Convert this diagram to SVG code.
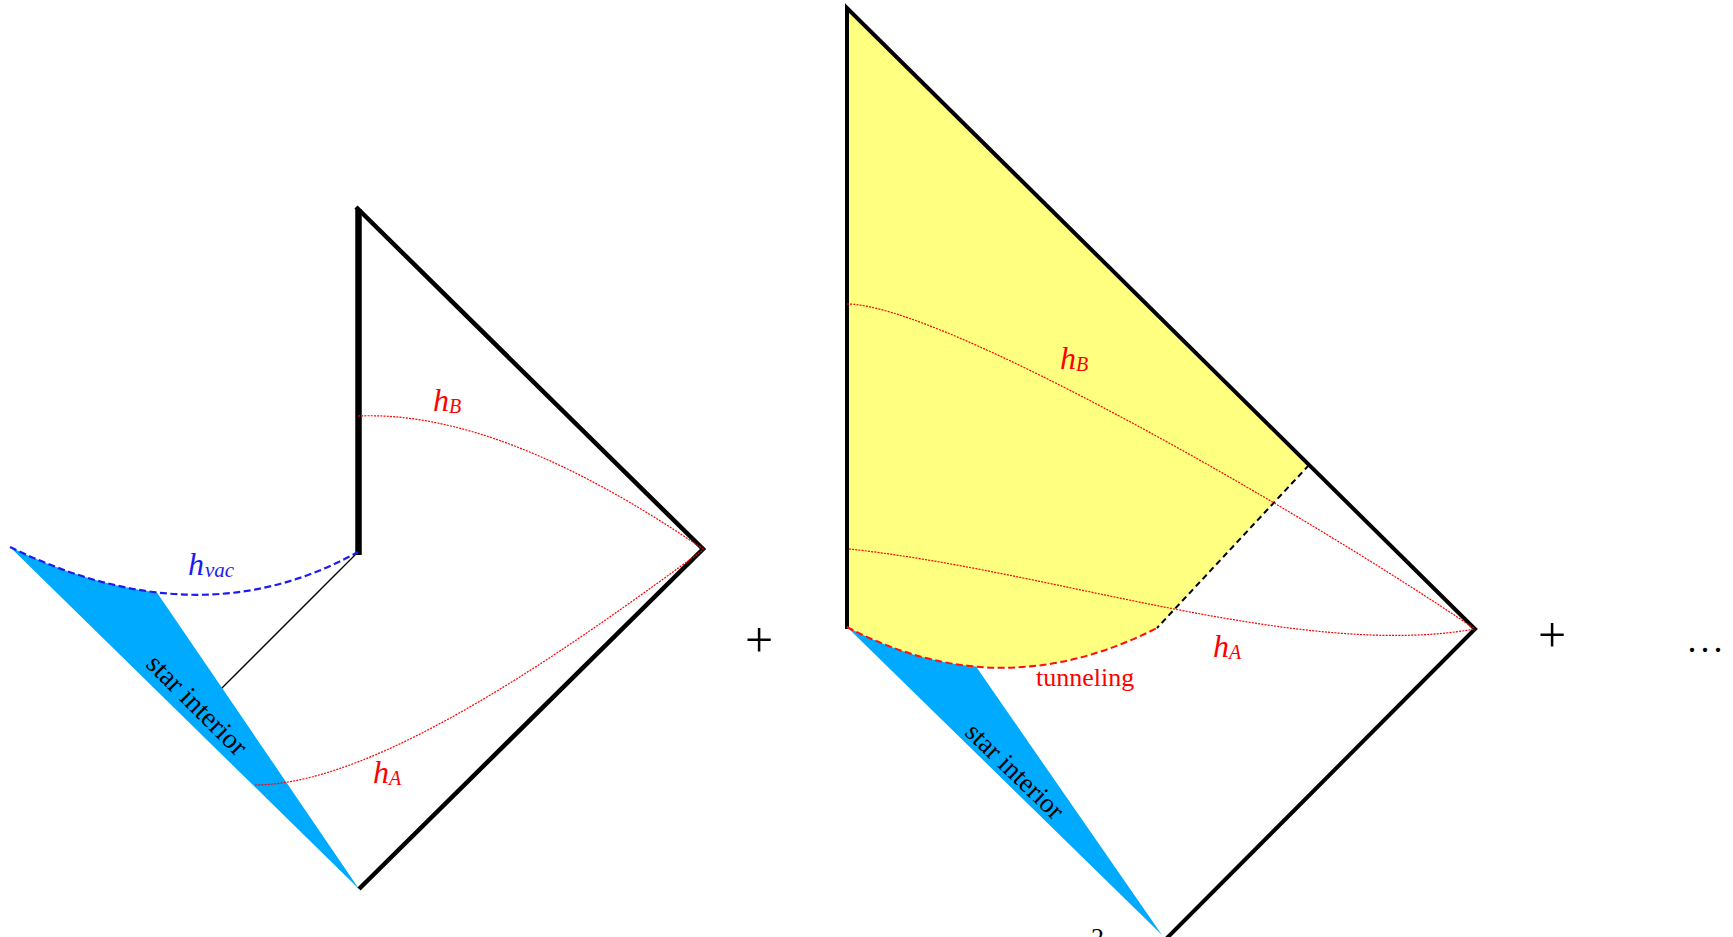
<svg xmlns="http://www.w3.org/2000/svg" width="1733" height="937" viewBox="0 0 1733 937">
<style>
.bd{fill:none;stroke:#000;stroke-linejoin:miter;stroke-linecap:butt}
.rdot{fill:none;stroke:#ff0000;stroke-width:1.2;stroke-dasharray:2 1.2}
.rdash{fill:none;stroke:#ff1010;stroke-width:2;stroke-dasharray:7 3.5}
.bdash{fill:none;stroke:#1c1cf0;stroke-width:2.2;stroke-dasharray:7 3.5}
.kdash{fill:none;stroke:#000;stroke-width:2;stroke-dasharray:6 4}
.star{fill:#00aaff;stroke:none}
.yel{fill:#ffff80;stroke:none}
.lbl{font-family:"Liberation Serif","Times New Roman",serif;font-style:italic;fill:#ff0000}
.sub{font-family:"Liberation Serif","Times New Roman",serif;font-style:italic;fill:#ff0000;font-size:20px}
.txt{font-family:"Liberation Serif","Times New Roman",serif;fill:#000}
</style>
<rect width="1733" height="937" fill="#fff"/>

<g id="left-diagram">
  <path class="star" d="M10,547 Q86,584.2 156.9,592.4 L359,889 Z"/>
  <path class="bd" style="stroke-width:1.3" d="M358,552 L222,688"/>
  <path class="bd" style="stroke-width:6.5" d="M358.5,555 L358.5,209"/>
  <path class="bd" style="stroke-width:4.5" d="M356,207 L703,549 L359,889"/>
</g>

<g id="right-diagram">
  <path class="yel" d="M847,8 L1309,465 L1157,628 Q1000,708 847,627 Z"/>
  <path class="star" d="M847,627 Q911.3,661 976,666.6 L1162,935 Z"/>
  <path class="bd" style="stroke-width:4" d="M847,629 L847,8 L1475,629 L1165,940"/>
</g>

<g id="connectors">
  <path class="bdash" d="M10,547 Q200,640 358,552"/>
  <path class="rdot" d="M358,416 Q500,410 703,549"/>
  <path class="rdot" d="M255,785 C380,785 580,640 703,550"/>
  <path class="kdash" d="M1309,465 L1157,628"/>
  <path class="rdash" d="M847,627 Q1000,708 1157,628"/>
  <path class="rdot" d="M847,304 C940,304 1300,510 1475,629"/>
  <path class="rdot" d="M849,549 C1050,570 1300,660 1475,629"/>
</g>

<g id="label-hvac">
  <text x="188" y="575" font-size="32" style="font-family:'Liberation Serif','Times New Roman',serif;font-style:italic;fill:#1c1cf0">h</text>
  <text x="205" y="577" font-size="21" style="font-family:'Liberation Serif','Times New Roman',serif;font-style:italic;fill:#1c1cf0">vac</text>
</g>
<g id="label-hB-left">
  <text class="lbl" x="433" y="411" font-size="32">h</text>
  <text class="sub" x="449" y="413">B</text>
</g>
<g id="label-hA-left">
  <text class="lbl" x="373" y="783" font-size="32">h</text>
  <text class="sub" x="389" y="785">A</text>
</g>
<g id="label-hB-right">
  <text class="lbl" x="1060" y="369" font-size="32">h</text>
  <text class="sub" x="1076" y="371">B</text>
</g>
<g id="label-hA-right">
  <text class="lbl" x="1213" y="657" font-size="32">h</text>
  <text class="sub" x="1229" y="659">A</text>
</g>
<g id="label-tunneling">
  <text x="1036" y="686" font-size="26" style="font-family:'Liberation Serif','Times New Roman',serif;fill:#ff0000">tunneling</text>
</g>
<g id="label-star-left">
  <text class="txt" font-size="28" text-anchor="middle" transform="translate(197,705) rotate(45)" x="0" y="9">star interior</text>
</g>
<g id="label-star-right">
  <text class="txt" font-size="27" text-anchor="middle" transform="translate(1015,771) rotate(44)" x="0" y="9">star interior</text>
</g>
<g id="plus-1"><text class="txt" font-size="50" text-anchor="middle" x="759" y="657">+</text></g>
<g id="plus-2"><text class="txt" font-size="50" text-anchor="middle" x="1552" y="652">+</text></g>
<g id="ellipsis"><text class="txt" font-size="36" x="1687.5" y="652" letter-spacing="4">...</text></g>
<g id="page-number"><text class="txt" font-size="26" x="1091" y="946">2</text></g>
</svg>
